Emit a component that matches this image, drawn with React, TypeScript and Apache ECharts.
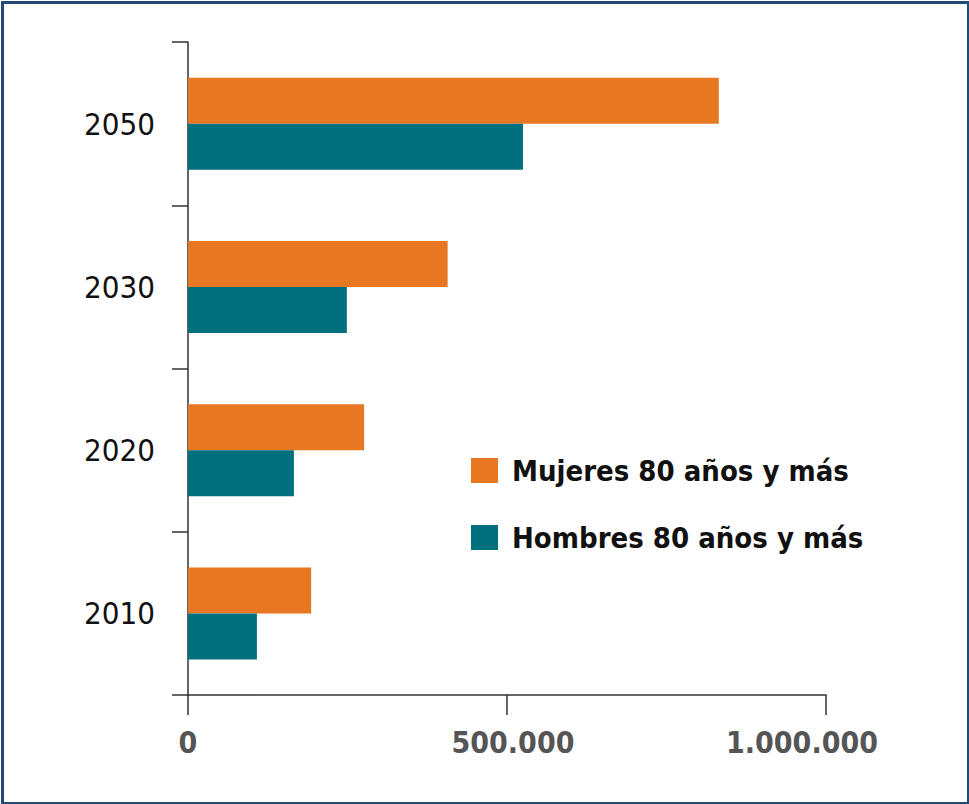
import React, { useEffect, useRef } from "react";
import * as echarts from "echarts";

const years = ["2010", "2020", "2030", "2050"];
const mujeres = [193000, 276000, 407000, 832000];
const hombres = [108000, 166000, 249000, 525000];
const xTicks = [0, 500000, 1000000];
const xTickLabels: Record<number, string> = { 0: "0", 500000: "500.000", 1000000: "1.000.000" };
const seriesNames = ["Mujeres 80 años y más", "Hombres 80 años y más"];

const FONT = "'Liberation Sans Narrow', 'DejaVu Sans Condensed', 'Arial Narrow', sans-serif";

export default function App() {
  const ref = useRef<HTMLDivElement>(null);
  useEffect(() => {
    if (!ref.current) return;
    const chart = echarts.init(ref.current, undefined, { renderer: "svg" });
    chart.setOption({
      animation: false,
      backgroundColor: "#ffffff",
      grid: { left: 188, right: 143, top: 42, bottom: 109, containLabel: false },
      legend: {
        data: seriesNames,
        orient: "vertical",
        left: 471,
        top: 453,
        padding: 0,
        itemWidth: 27,
        itemHeight: 25,
        itemGap: 32,
        icon: "rect",
        textStyle: {
          fontFamily: FONT,
          fontSize: 29,
          fontWeight: "bold",
          color: "#111111",
          lineHeight: 35,
          padding: [0, 0, 0, 9],
        },
      },
      xAxis: {
        type: "value",
        min: xTicks[0],
        max: xTicks[xTicks.length - 1],
        interval: xTicks[1] - xTicks[0],
        splitLine: { show: false },
        axisLine: { show: true, lineStyle: { color: "#333333", width: 1.5 } },
        axisTick: { show: true, length: 20, lineStyle: { color: "#333333", width: 1.5 } },
        axisLabel: {
          margin: 32,
          fontFamily: FONT,
          fontSize: 30,
          fontWeight: "bold",
          color: "#555555",
          formatter: (v: number) => {
            const t = xTickLabels[v] ?? String(v);
            if (v === 1000000) return "{r|" + t + "}";
            if (v === 500000) return "{m|" + t + "}";
            return t;
          },
          rich: {
            r: { fontFamily: FONT, fontSize: 30, fontWeight: "bold", color: "#555555", padding: [0, 48, 0, 0] },
            m: { fontFamily: FONT, fontSize: 30, fontWeight: "bold", color: "#555555", padding: [0, 0, 0, 12] },
          },
        },
      },
      yAxis: {
        type: "category",
        data: years,
        axisLine: { show: true, lineStyle: { color: "#333333", width: 1.5 } },
        axisTick: { show: true, length: 16, lineStyle: { color: "#333333", width: 1.5 } },
        axisLabel: { margin: 33, fontFamily: FONT, fontSize: 31, color: "#111111" },
      },
      series: [
        {
          name: seriesNames[0],
          type: "bar",
          data: mujeres,
          barWidth: 46,
          barGap: "0%",
          itemStyle: { color: "#E87722" },
        },
        {
          name: seriesNames[1],
          type: "bar",
          data: hombres,
          barWidth: 46,
          barGap: "0%",
          itemStyle: { color: "#00707F" },
        },
      ],
      graphic: [
        {
          type: "rect",
          left: 0,
          top: 0,
          shape: { x: 1.5, y: 1.5, width: 966, height: 801 },
          style: { fill: "none", stroke: "#234a74", lineWidth: 3 },
          silent: true,
        },
      ],
    });
    return () => chart.dispose();
  }, []);
  return (
    <div
      ref={ref}
      style={{ position: "absolute", left: 0, top: 0, width: 969, height: 804 }}
    />
  );
}
